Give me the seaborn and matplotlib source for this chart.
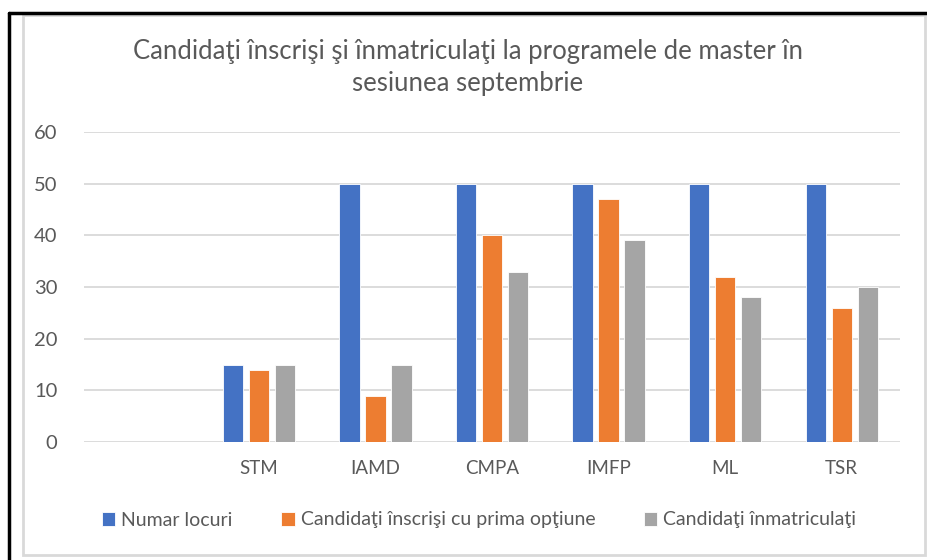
import numpy as np
import pandas as pd
import seaborn as sns
import matplotlib.pyplot as plt
from matplotlib.lines import Line2D
from matplotlib.patches import Rectangle

categories = ["", "STM", "IAMD", "CMPA", "IMFP", "ML", "TSR"]
series_names = ["Numar locuri", "Candidaţi înscrişi cu prima opţiune", "Candidaţi înmatriculaţi"]
numar_locuri = [15, 50, 50, 50, 50, 50]
inscrisi = [14, 9, 40, 47, 32, 26]
inmatriculati = [15, 15, 33, 39, 28, 30]
programs = categories[1:]
title = "Candidaţi înscrişi şi înmatriculaţi la programele de master în\nsesiunea septembrie"
yticks = [0, 10, 20, 30, 40, 50, 60]
colors = ["#4472C4", "#ED7D31", "#A5A5A5"]

rows = []
for name, vals in zip(series_names, [numar_locuri, inscrisi, inmatriculati]):
    for p, v in zip(programs, vals):
        rows.append({"cat": p, "series": name, "value": v})
df = pd.DataFrame(rows)

sns.set_theme(style="white")
plt.rcParams["font.family"] = ["Lato", "DejaVu Sans"]

fig = plt.figure(figsize=(9.28, 5.6), dpi=100)
ax = fig.add_axes([84/928, 1-442/560, 816/928, 310/560])

sns.barplot(data=df, x="cat", y="value", hue="series", order=categories,
            hue_order=series_names, palette=colors, saturation=1, width=0.67, gap=0.22,
            edgecolor="#FFFFFF", linewidth=0.6, ax=ax, legend=True)

ax.set_ylim(0, 60)
ax.set_xlim(-0.5, len(categories) - 0.5)
ax.set_yticks(yticks)
ax.yaxis.grid(True, color="#D9D9D9", linewidth=1.3)
ax.set_axisbelow(True)
for s in ax.spines.values():
    s.set_visible(False)
ax.set_xlabel("")
ax.set_ylabel("")
ax.tick_params(axis="y", length=0, pad=19, labelsize=14.5, labelcolor="#595959")
ax.tick_params(axis="x", length=0, pad=13, labelsize=13.5, labelcolor="#595959")

h, l = ax.get_legend_handles_labels()
ax.get_legend().remove()
fig.legend(h, l, loc="center", bbox_to_anchor=(479/928, 1-520/560), ncol=3,
           frameon=False, fontsize=14, labelcolor="#595959",
           handlelength=0.7, handleheight=0.7, handletextpad=0.3, columnspacing=2.5)

fig.text(468/928, 1-67/560, title, ha="center", va="center", fontsize=18.5,
         color="#595959", linespacing=1.35)

# frame
fig.add_artist(Rectangle((23/928, 5/560), 902/928, 540/560, transform=fig.transFigure,
                         fill=False, edgecolor="#D9D9D9", linewidth=2))
fig.add_artist(Line2D([9/928, 1], [1-12.5/560, 1-12.5/560], transform=fig.transFigure,
                      color="black", linewidth=2.5))
fig.add_artist(Line2D([9/928, 9/928], [0, 1-12.5/560], transform=fig.transFigure,
                      color="black", linewidth=2.5))

fig.savefig("out.png", dpi=100)
